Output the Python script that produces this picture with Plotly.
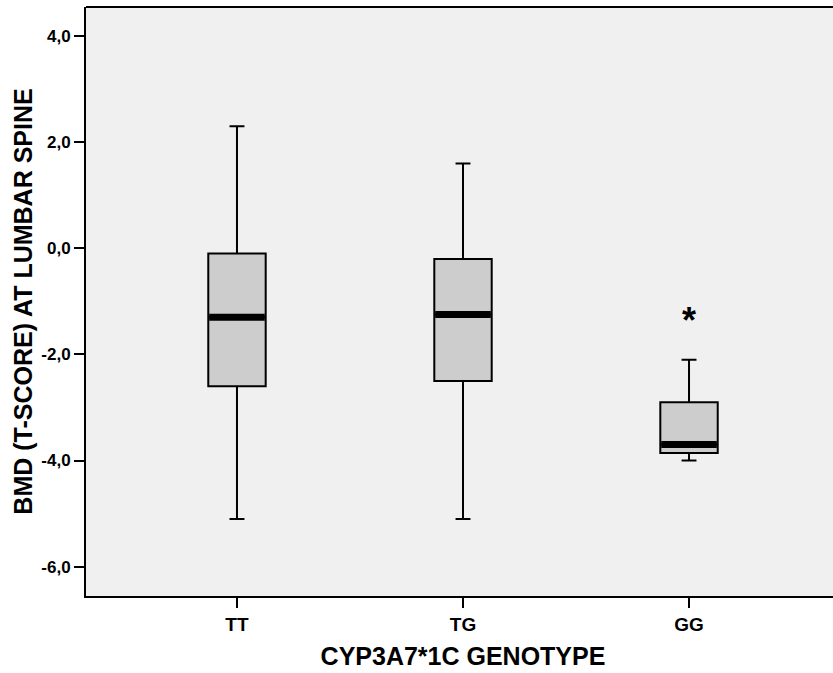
import plotly.graph_objects as go

categories = ["TT", "TG", "GG"]
upper_whisker = [2.3, 1.6, -2.1]
q3_values = [-0.1, -0.2, -2.9]
median_values = [-1.3, -1.25, -3.7]
q1_values = [-2.6, -2.5, -3.86]
lower_whisker = [-5.1, -5.1, -4.0]
outlier_group = [2]
outlier_values = [-1.25]

y_tick_values = [-6, -4, -2, 0, 2, 4]
y_tick_labels = ["-6,0", "-4,0", "-2,0", "0,0", "2,0", "4,0"]

positions = list(range(len(categories)))
box_w = 0.254

fig = go.Figure()
fig.add_trace(go.Box(
    x=positions,
    q1=q1_values, median=median_values, q3=q3_values,
    lowerfence=lower_whisker, upperfence=upper_whisker,
    width=box_w, whiskerwidth=0.26,
    fillcolor="#cdcdcd",
    line=dict(color="black", width=2),
    boxpoints=False, hoverinfo="skip", showlegend=False,
))

for i, m in zip(positions, median_values):
    fig.add_trace(go.Scatter(
        x=[i - box_w / 2 + 0.004, i + box_w / 2 - 0.004], y=[m, m],
        mode="lines", line=dict(color="black", width=7),
        hoverinfo="skip", showlegend=False,
    ))

for g, v in zip(outlier_group, outlier_values):
    fig.add_annotation(
        x=g, y=v, text="<b>*</b>", showarrow=False,
        font=dict(family="Liberation Sans, Arial", size=36, color="black"),
        yanchor="middle", xanchor="center", yshift=-6,
    )

# top frame line of the plot area
fig.add_shape(type="line", xref="paper", yref="paper", x0=0, x1=1, y0=1, y1=1,
              line=dict(color="black", width=2))

fig.update_layout(
    width=840, height=673,
    margin=dict(l=86, r=0, t=7, b=77),
    plot_bgcolor="#f0f0f0", paper_bgcolor="white",
    font=dict(family="Liberation Sans, Arial", color="black"),
    showlegend=False,
)
fig.update_xaxes(
    range=[-0.668, 2.668],
    tickmode="array", tickvals=positions, ticktext=[f"<b>{c}</b>" for c in categories],
    tickfont=dict(size=19), ticks="outside", ticklen=10, tickwidth=2, tickcolor="black",
    showline=True, linecolor="black", linewidth=2, mirror=False,
    showgrid=False, zeroline=False,
    title=dict(text="<b>CYP3A7*1C GENOTYPE</b>", font=dict(size=25), standoff=14),
)
fig.update_yaxes(
    range=[-6.553, 4.547],
    tickmode="array", tickvals=y_tick_values, ticktext=[f"<b>{t}</b>" for t in y_tick_labels],
    tickfont=dict(size=17), ticks="outside", ticklen=10, tickwidth=2, tickcolor="black",
    showline=True, linecolor="black", linewidth=2, mirror=False,
    showgrid=False, zeroline=False,
    title=dict(text="<b>BMD (T-SCORE) AT LUMBAR SPINE</b>", font=dict(size=25), standoff=2),
)

fig.write_html(
    "out.html",
    config={"displayModeBar": False},
    post_script="document.body.style.margin='0';document.body.style.overflow='hidden';",
)
